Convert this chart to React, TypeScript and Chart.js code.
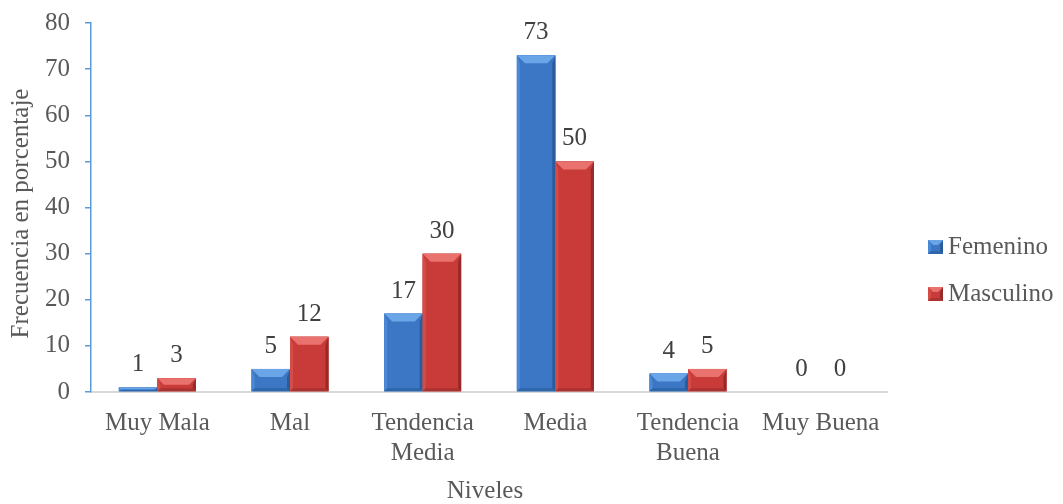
import React, { useEffect, useRef } from "react";
import { Chart, registerables } from "chart.js";

Chart.register(...registerables);

const categories: (string | string[])[] = [
  "Muy Mala",
  "Mal",
  ["Tendencia", "Media"],
  "Media",
  ["Tendencia", "Buena"],
  "Muy Buena",
];
const femenino: number[] = [1, 5, 17, 73, 4, 0];
const masculino: number[] = [3, 12, 30, 50, 5, 0];
const seriesNames: string[] = ["Femenino", "Masculino"];
const yTicks: number[] = [0, 10, 20, 30, 40, 50, 60, 70, 80];
const xTitle = "Niveles";
const yTitle = "Frecuencia en porcentaje";

const FONT = '"Liberation Serif", "Times New Roman", serif';

const palettes = [
  { body: "#3b77c4", top: "#6aa5e8", left: "#4b89d6", right: "#2a5c9c", bottom: "#2f65a9" },
  { body: "#c93b38", top: "#ea726e", left: "#d44c48", right: "#962a28", bottom: "#a93331" },
];

function drawBevelRect(
  ctx: CanvasRenderingContext2D,
  x0: number,
  y0: number,
  x1: number,
  y1: number,
  p: { body: string; top: string; left: string; right: string; bottom: string },
  bevel: number
) {
  const w = x1 - x0;
  const h = y1 - y0;
  if (h <= 0 || w <= 0) return;
  const b = Math.min(bevel, w / 2, h / 2);
  ctx.save();
  ctx.fillStyle = p.body;
  ctx.fillRect(x0, y0, w, h);
  const poly = (pts: number[][], color: string) => {
    ctx.beginPath();
    ctx.moveTo(pts[0][0], pts[0][1]);
    for (let i = 1; i < pts.length; i++) ctx.lineTo(pts[i][0], pts[i][1]);
    ctx.closePath();
    ctx.fillStyle = color;
    ctx.fill();
  };
  const side = Math.min(3, w / 4);
  poly([[x0, y0], [x0 + side, y0 + b], [x0 + side, y1 - Math.min(b, 3)], [x0, y1]], p.left);
  poly([[x1, y0], [x1 - side, y0 + b], [x1 - side, y1 - Math.min(b, 3)], [x1, y1]], p.right);
  const bb = Math.min(3, h / 3);
  poly([[x0, y1], [x0 + side, y1 - bb], [x1 - side, y1 - bb], [x1, y1]], p.bottom);
  poly([[x0, y0], [x1, y0], [x1 - b, y0 + b], [x0 + b, y0 + b]], p.top);
  ctx.restore();
}

const bevelPlugin = {
  id: "bevelBars",
  afterDatasetsDraw(chart: any) {
    const ctx = chart.ctx as CanvasRenderingContext2D;
    chart.data.datasets.forEach((ds: any, di: number) => {
      const meta = chart.getDatasetMeta(di);
      meta.data.forEach((el: any) => {
        const { x, y, base, width } = el.getProps(["x", "y", "base", "width"], true);
        const x0 = x - width / 2;
        const x1 = x + width / 2;
        const top = Math.min(y, base);
        const bot = Math.max(y, base);
        drawBevelRect(ctx, x0, top, x1, bot, palettes[di], 8);
      });
    });
  },
};

const labelPlugin = {
  id: "valueLabels",
  afterDraw(chart: any) {
    const ctx = chart.ctx as CanvasRenderingContext2D;
    ctx.save();
    ctx.font = `25px ${FONT}`;
    ctx.fillStyle = "#404040";
    ctx.textAlign = "center";
    ctx.textBaseline = "alphabetic";
    chart.data.datasets.forEach((ds: any, di: number) => {
      const meta = chart.getDatasetMeta(di);
      meta.data.forEach((el: any, i: number) => {
        const { x, y } = el.getProps(["x", "y"], true);
        ctx.fillText(String(ds.data[i]), x, y - 16);
      });
    });

    ctx.fillStyle = "#595959";
    ctx.textBaseline = "middle";
    const area = chart.chartArea;
    ctx.fillText(xTitle, (area.left + area.right) / 2 - 4, 491.5);
    ctx.save();
    ctx.translate(21, (area.top + area.bottom) / 2 + 6);
    ctx.rotate(-Math.PI / 2);
    ctx.fillText(yTitle, 0, 0);
    ctx.restore();

    ctx.textAlign = "left";
    const lx = 928;
    const ly = [247, 294];
    seriesNames.forEach((name, i) => {
      drawBevelRect(ctx, lx, ly[i] - 7, lx + 15, ly[i] + 7, palettes[i], 5);
      ctx.fillStyle = "#595959";
      ctx.fillText(name, 948, ly[i]);
    });
    ctx.restore();
  },
};

export default function App() {
  const canvasRef = useRef<HTMLCanvasElement | null>(null);

  useEffect(() => {
    document.body.style.margin = "0";
    const canvas = canvasRef.current;
    if (!canvas) return;
    const chart = new Chart(canvas, {
      type: "bar",
      data: {
        labels: categories,
        datasets: [
          {
            label: seriesNames[0],
            data: femenino,
            backgroundColor: palettes[0].body,
            categoryPercentage: 0.58,
            barPercentage: 1,
          },
          {
            label: seriesNames[1],
            data: masculino,
            backgroundColor: palettes[1].body,
            categoryPercentage: 0.58,
            barPercentage: 1,
          },
        ],
      },
      options: {
        responsive: false,
        animation: false,
        layout: { padding: { left: 0, right: 176, top: 23, bottom: 0 } },
        plugins: {
          legend: { display: false },
          tooltip: { enabled: false },
        },
        scales: {
          x: {
            grid: { display: false, drawTicks: false },
            border: { display: true, color: "#d9d9d9", width: 2 },
            ticks: {
              color: "#595959",
              font: { family: FONT, size: 25 },
              padding: 16,
              maxRotation: 0,
              autoSkip: false,
            },
            afterFit: (s: any) => {
              s.height = 112;
              s.paddingLeft = 0;
              s.paddingRight = 0;
            },
          },
          y: {
            min: 0,
            max: 80,
            afterBuildTicks: (s: any) => {
              s.ticks = yTicks.map((v) => ({ value: v }));
            },
            grid: {
              display: true,
              drawOnChartArea: false,
              drawTicks: true,
              tickLength: 6,
              color: "#5b9bd5",
              lineWidth: 1.5,
            },
            border: { display: true, color: "#5b9bd5", width: 1.5 },
            ticks: {
              color: "#595959",
              font: { family: FONT, size: 25 },
              padding: 15,
            },
            afterFit: (s: any) => {
              s.width = 91;
              s.paddingTop = 0;
              s.paddingBottom = 0;
            },
          },
        },
      },
      plugins: [bevelPlugin, labelPlugin],
    });
    return () => chart.destroy();
  }, []);

  return (
    <div style={{ position: "absolute", left: 0, top: 0, width: 1063, height: 504, background: "#fff" }}>
      <canvas ref={canvasRef} width={1063} height={504} style={{ display: "block" }} />
    </div>
  );
}
